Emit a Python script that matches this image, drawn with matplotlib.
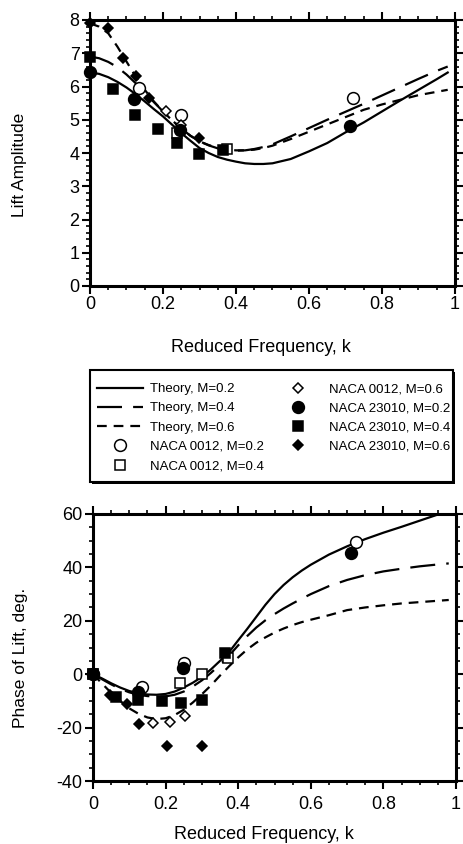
import matplotlib
matplotlib.use('Agg')
import matplotlib.pyplot as plt
from matplotlib.ticker import MultipleLocator, FixedLocator
from matplotlib.patches import Rectangle

plt.rcParams['font.family'] = ['Liberation Sans', 'DejaVu Sans']
plt.rcParams['lines.scale_dashes'] = False
plt.rcParams['axes.unicode_minus'] = False

# ---------------- theory curves: lift amplitude ----------------
k_th = [0, 0.025, 0.05, 0.075, 0.1, 0.125, 0.15, 0.175, 0.2, 0.225, 0.25, 0.275,
        0.3, 0.325, 0.35, 0.375, 0.4, 0.425, 0.45, 0.475, 0.5, 0.55, 0.6, 0.65, 0.7,
        0.75, 0.8, 0.85, 0.9, 0.95, 0.98]
amp_th_m02 = [6.42, 6.38, 6.28, 6.14, 5.97, 5.77, 5.55, 5.32, 5.10, 4.85, 4.60, 4.37,
              4.15, 4.00, 3.88, 3.80, 3.74, 3.69, 3.67, 3.67, 3.69, 3.82, 4.05, 4.30,
              4.62, 4.92, 5.25, 5.58, 5.90, 6.22, 6.42]
amp_th_m04 = [6.90, 6.85, 6.74, 6.58, 6.36, 6.10, 5.82, 5.53, 5.25, 4.98, 4.74, 4.52,
              4.35, 4.23, 4.14, 4.09, 4.07, 4.08, 4.12, 4.18, 4.26, 4.50, 4.75, 5.00,
              5.24, 5.48, 5.73, 5.98, 6.23, 6.47, 6.60]
amp_th_m06 = [7.90, 7.80, 7.60, 7.20, 6.75, 6.30, 5.90, 5.55, 5.25, 4.98, 4.74, 4.52,
              4.35, 4.24, 4.15, 4.10, 4.08, 4.08, 4.10, 4.15, 4.22, 4.42, 4.64, 4.86,
              5.08, 5.30, 5.46, 5.60, 5.74, 5.84, 5.90]

# ---------------- theory curves: lift phase ----------------
k_ph = [0, 0.025, 0.05, 0.075, 0.1, 0.125, 0.15, 0.175, 0.2, 0.225, 0.25, 0.275,
        0.3, 0.325, 0.35, 0.375, 0.4, 0.425, 0.45, 0.475, 0.5, 0.525, 0.55, 0.575,
        0.6, 0.65, 0.7, 0.75, 0.8, 0.85, 0.9, 0.95, 0.98, 1.0]
ph_th_m02 = [0, -1.6, -3.4, -5.0, -6.3, -7.1, -7.6, -7.7, -7.4, -6.5, -5.0, -3.2,
             -1.0, 1.8, 5.0, 8.3, 12.7, 17.0, 21.5, 26.0, 30.0, 33.4, 36.3, 38.8,
             41.0, 44.8, 47.9, 50.6, 53.0, 55.2, 57.5, 59.8, 61.0, 61.7]
ph_th_m04 = [0, -1.9, -3.8, -5.5, -6.8, -7.7, -8.2, -8.4, -8.3, -7.7, -6.5, -4.6,
             -2.3, 0.5, 3.6, 7.0, 10.8, 14.3, 17.5, 20.2, 22.5, 24.6, 26.5, 28.3,
             30.0, 33.0, 35.3, 37.1, 38.5, 39.5, 40.4, 41.1, 41.5, None]
ph_th_m06 = [0, -3.5, -7.0, -10.0, -12.8, -14.8, -16.2, -16.8, -16.5, -15.3, -13.3, -10.6,
             -7.5, -4.2, -0.5, 3.0, 6.3, 9.3, 11.8, 13.8, 15.6, 17.1, 18.4, 19.5,
             20.4, 22.1, 24.0, 25.0, 25.8, 26.5, 27.0, 27.5, 27.8, None]

# ---------------- experiment: lift amplitude ----------------
k_a_0012_m02 = [0.135, 0.25, 0.721]
a_0012_m02 = [5.96, 5.15, 5.64]
k_a_0012_m04 = [0.237, 0.375]
a_0012_m04 = [4.60, 4.11]
k_a_0012_m06 = [0.207, 0.25]
a_0012_m06 = [5.25, 4.85]
k_a_23010_m02 = [0, 0.12, 0.247, 0.712]
a_23010_m02 = [6.45, 5.63, 4.69, 4.81]
k_a_23010_m04 = [0, 0.064, 0.123, 0.185, 0.239, 0.30, 0.364]
a_23010_m04 = [6.90, 5.92, 5.14, 4.73, 4.29, 3.97, 4.09]
k_a_23010_m06 = [0, 0.05, 0.09, 0.126, 0.163, 0.30]
a_23010_m06 = [7.90, 7.75, 6.85, 6.33, 5.64, 4.44]

# ---------------- experiment: lift phase ----------------
k_p_0012_m02 = [0, 0.134, 0.252, 0.724]
p_0012_m02 = [0, -4.75, 4.2, 49.6]
k_p_0012_m04 = [0, 0.24, 0.301, 0.372]
p_0012_m04 = [0, -3.25, 0.0, 6.25]
k_p_0012_m06 = [0.166, 0.212, 0.253]
p_0012_m06 = [-18.2, -17.9, -15.7]
k_p_23010_m02 = [0, 0.123, 0.249, 0.712]
p_23010_m02 = [0, -6.6, 2.5, 45.25]
k_p_23010_m04 = [0, 0.064, 0.125, 0.189, 0.242, 0.30, 0.365]
p_23010_m04 = [0, -8.5, -9.75, -10.1, -10.75, -9.5, 8.0]
k_p_23010_m06 = [0, 0.048, 0.093, 0.127, 0.203, 0.30]
p_23010_m06 = [0, -7.9, -11.0, -18.7, -27.0, -27.0]

xticks = [0, 0.2, 0.4, 0.6, 0.8, 1.0]
xticklabels = ['0', '0.2', '0.4', '0.6', '0.8', '1']

LW = 1.6
LONG = (0, (18, 8))
SHORT = (0, (7, 5))
MS_O = 8.5
MS_S = 7.2
MS_D = 5.2

W, H = 464, 844
fig = plt.figure(figsize=(W / 100, H / 100), dpi=100)
ax1 = fig.add_axes([90 / W, 1 - 286 / H, 365 / W, 266 / H])
ax2 = fig.add_axes([93 / W, 1 - 781 / H, 363 / W, 267 / H])


def style_axes(ax):
    for s in ax.spines.values():
        s.set_linewidth(2.2)
    ax.tick_params(which='major', direction='out', length=6, width=1.5,
                   top=True, right=True, labelsize=13, pad=1.5, colors='black')
    ax.tick_params(which='minor', direction='out', length=3, width=1.2,
                   top=True, right=True)
    ax.set_xlim(0, 1)
    ax.xaxis.set_major_locator(FixedLocator(xticks))
    ax.set_xticklabels(xticklabels)
    ax.xaxis.set_minor_locator(MultipleLocator(0.05))


def draw(ax, kt, c02, c04, c06, data):
    h = []
    h += ax.plot(kt, c02, color='k', lw=LW, ls='-', label='Theory, M=0.2')
    h += ax.plot(kt, c04, color='k', lw=LW, ls=LONG, label='Theory, M=0.4')
    h += ax.plot(kt, c06, color='k', lw=LW, ls=SHORT, label='Theory, M=0.6')
    specs = [('o', MS_O, 'white', 'NACA 0012, M=0.2'),
             ('s', MS_S, 'white', 'NACA 0012, M=0.4'),
             ('D', MS_D, 'white', 'NACA 0012, M=0.6'),
             ('o', MS_O, 'black', 'NACA 23010, M=0.2'),
             ('s', MS_S, 'black', 'NACA 23010, M=0.4'),
             ('D', MS_D, 'black', 'NACA 23010, M=0.6')]
    for (m, ms, fc, lab), (kx, vy) in zip(specs, data):
        h += ax.plot(kx, vy, ls='none', marker=m, ms=ms, mfc=fc, mec='black',
                     mew=1.1, label=lab, clip_on=False, zorder=4)
    return h


handles = draw(ax1, k_th, amp_th_m02, amp_th_m04, amp_th_m06,
               [(k_a_0012_m02, a_0012_m02), (k_a_0012_m04, a_0012_m04),
                (k_a_0012_m06, a_0012_m06), (k_a_23010_m02, a_23010_m02),
                (k_a_23010_m04, a_23010_m04), (k_a_23010_m06, a_23010_m06)])
style_axes(ax1)
ax1.set_ylim(0, 8)
ax1.yaxis.set_major_locator(MultipleLocator(1))
ax1.yaxis.set_minor_locator(MultipleLocator(0.2))
ax1.set_ylabel('Lift Amplitude', fontsize=12.5)
ax1.yaxis.set_label_coords(-0.173, 0.455)
ax1.set_xlabel('Reduced Frequency, k', fontsize=13)
ax1.xaxis.set_label_coords(0.468, -0.2)

draw(ax2, k_ph, ph_th_m02, ph_th_m04, ph_th_m06,
     [(k_p_0012_m02, p_0012_m02), (k_p_0012_m04, p_0012_m04),
      (k_p_0012_m06, p_0012_m06), (k_p_23010_m02, p_23010_m02),
      (k_p_23010_m04, p_23010_m04), (k_p_23010_m06, p_23010_m06)])
style_axes(ax2)
ax2.set_ylim(-40, 60)
ax2.yaxis.set_major_locator(MultipleLocator(20))
ax2.yaxis.set_minor_locator(MultipleLocator(5))
ax2.tick_params(axis='x', which='major', pad=5)
ax2.set_ylabel('Phase of Lift, deg.', fontsize=12.5)
ax2.yaxis.set_label_coords(-0.179, 0.46)
ax2.set_xlabel('Reduced Frequency, k', fontsize=13)
ax2.xaxis.set_label_coords(0.471, -0.17)

# legend box with a black drop shadow
bx, by, bw, bh = 90, 370, 363, 112
shadow = Rectangle(((bx + 2.5) / W, 1 - (by + bh + 2.5) / H), bw / W, bh / H,
                   transform=fig.transFigure, facecolor='black', edgecolor='black',
                   lw=0, zorder=1)
frame = Rectangle((bx / W, 1 - (by + bh) / H), bw / W, bh / H,
                  transform=fig.transFigure, facecolor='white', edgecolor='black',
                  lw=1.5, zorder=2)
fig.add_artist(shadow)
fig.add_artist(frame)

leg = fig.legend(handles=handles, ncol=2, loc='upper left',
                 bbox_to_anchor=(97 / W, 1 - 383 / H), frameon=False,
                 borderpad=0, borderaxespad=0, columnspacing=0.83,
                 fontsize=9.5, handlelength=3.5, handletextpad=0.55,
                 labelspacing=0.53, numpoints=1)
leg.set_zorder(5)

fig.savefig('out.png', dpi=100)
